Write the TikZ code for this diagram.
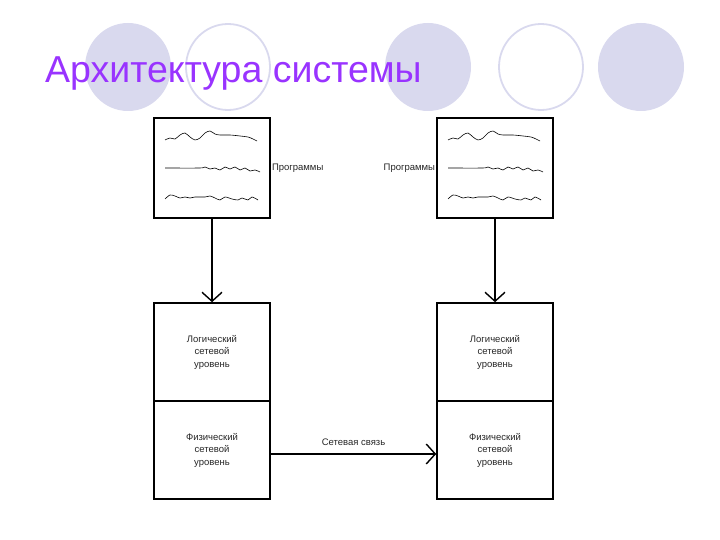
\documentclass[tikz,border=0pt]{standalone}
\usepackage{fontspec}
\setmainfont{Liberation Sans}
\usetikzlibrary{arrows.meta}
\definecolor{lav}{RGB}{217,217,238}
\definecolor{ttl}{RGB}{153,51,255}
\begin{document}
\begin{tikzpicture}[x=1pt,y=-1pt,
  deco/.style={fill=lav,draw=none},
  decoring/.style={draw=lav,line width=1.8pt},
  box/.style={draw=black,line width=1.6pt,minimum width=116pt,inner sep=0pt},
  lbl/.style={font=\fontsize{9.5}{12.5}\selectfont,align=center,text=black!85},
  conn/.style={line width=1.4pt,-{Straight Barb[length=9pt,width=20pt,line width=1.4pt]}},
  scrib/.style={line width=0.6pt,black}]
\useasboundingbox (0,0) rectangle (720,540);
% decorative circles
\fill[deco] (128,67) ellipse (43 and 44);
\draw[decoring] (228,67) ellipse (42 and 43);
\fill[deco] (428,67) ellipse (43 and 44);
\draw[decoring] (541,67) ellipse (42 and 43);
\fill[deco] (641,67) ellipse (43 and 44);
% title
\node[anchor=base west,inner sep=0pt,text=ttl,font=\fontsize{37.5}{40}\selectfont] (title) at (45,83) {Архитектура системы};
% top boxes
\node[box,minimum height=100pt] (p1) at (212,168) {};
\node[box,minimum height=100pt] (p2) at (495,168) {};
% bottom boxes
\node[box,minimum height=98pt] (l1) at (212,352) {};
\node[box,minimum height=98pt] (f1) at (212,450) {};
\node[box,minimum height=98pt] (l2) at (495,352) {};
\node[box,minimum height=98pt] (f2) at (495,450) {};
\node[lbl] (tl1) at (l1.center) {Логический\\сетевой\\уровень};
\node[lbl] (tf1) at (f1.center) {Физический\\сетевой\\уровень};
\node[lbl] (tl2) at (l2.center) {Логический\\сетевой\\уровень};
\node[lbl] (tf2) at (f2.center) {Физический\\сетевой\\уровень};
% program labels
\node[lbl,anchor=west,inner sep=1pt] (pr1) at (p1.east) {Программы};
\node[lbl,anchor=east,inner sep=1pt] (pr2) at (p2.west) {Программы};
% connectors
\draw[conn] (p1.south) -- (l1.north);
\draw[conn] (p2.south) -- (l2.north);
\draw[conn] ([yshift=-4pt]f1.east) -- node[lbl,above=4pt] {Сетевая связь} ([yshift=-4pt]f2.west);
% scribbles
\foreach \dx in {0,283}{
\begin{scope}[xshift=\dx]
\draw[scrib] plot[smooth] coordinates {(165,140) (170,138) (175,139) (180,135) (185,133) (190,137) (195,140) (200,138) (205,133) (210,131) (215,134) (220,135) (230,135) (240,136) (248,137) (253,139) (257,141)};
\draw[scrib] plot[smooth] coordinates {(165,168) (200,168) (205,167) (210,169) (215,168) (220,170) (225,167) (230,169) (235,167) (240,170) (245,168) (250,171) (255,170) (260,172)};
\draw[scrib] plot[smooth] coordinates {(165,199) (170,195) (175,196) (180,198) (185,197) (190,198) (195,197) (205,197) (210,196) (215,198) (220,200) (225,197) (232,199) (238,200) (242,198) (248,200) (252,197) (258,200)};
\end{scope}}
\end{tikzpicture}
\end{document}
